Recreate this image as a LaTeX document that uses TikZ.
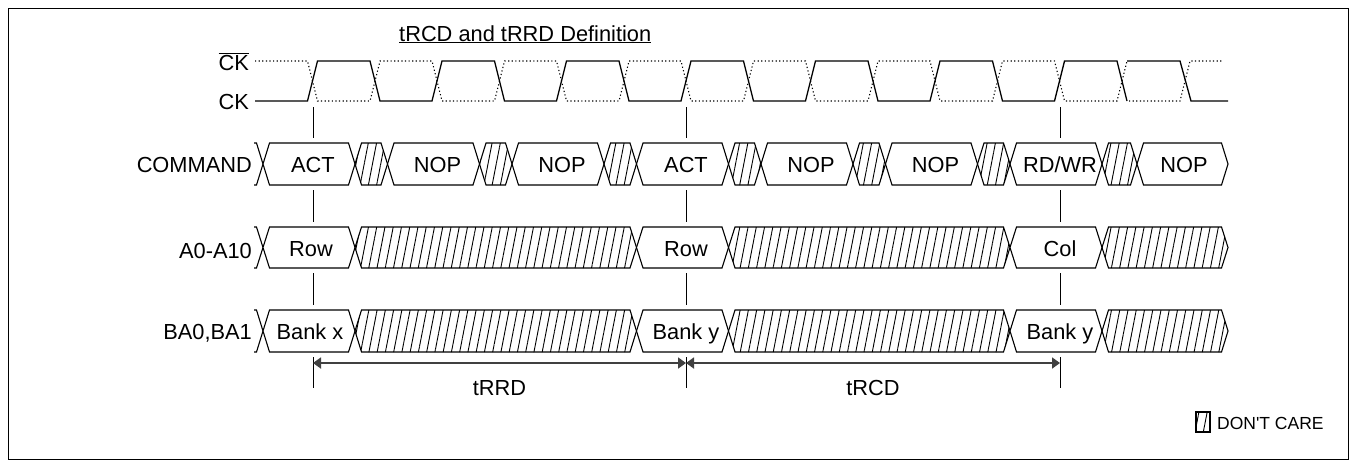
\documentclass[tikz,border=0pt]{standalone}
\usepackage{fontspec}
\setmainfont{Liberation Sans}
\usetikzlibrary{arrows.meta, positioning, calc, patterns.meta}

\tikzset{
  lbl/.style={font=\fontsize{21.8}{25}\selectfont, inner sep=0pt, anchor=base east},
  val/.style={font=\fontsize{21.8}{25}\selectfont, inner sep=0pt, anchor=base},
  bus/.style={line width=1.1pt, line join=miter, fill=white},
  dc/.style={line width=1.1pt, line join=miter,
    pattern={Lines[angle=79, distance=8.1pt, line width=0.9pt]}},
  ck/.style={line width=1.3pt},
  ckn/.style={line width=1.1pt, dash pattern=on 1.2pt off 2.4pt},
  ref/.style={line width=1pt},
  span/.style={{Triangle[length=8pt, width=11pt]}-{Triangle[length=8pt, width=11pt]},
    line width=1.8pt, black!75}
}

% one bus segment between two crossings: style, left x, right x, top y, bottom y
\newcommand{\seg}[5]{\draw[#1] (#2,{(#4+#5)/2}) -- (#2+6.5,#4) -- (#3-6.5,#4)
  -- (#3,{(#4+#5)/2}) -- (#3-6.5,#5) -- (#2+6.5,#5) -- cycle;}
% half crossing at the start of a bus
\newcommand{\lead}[2]{\draw[bus, fill=none] (254,#1) -- (256.5,#1) -- (263,{(#1+#2)/2})
  -- (256.5,#2) -- (254,#2);}

\begin{document}
\begin{tikzpicture}[x=1pt, y=-1pt]
  \useasboundingbox (0,0) rectangle (1356,467);
  \draw[line width=1pt] (8,8) rectangle (1348,459);

  \node[val, anchor=base west] (title) at (399,41) {\underline{tRCD and tRRD Definition}};

  % clock
  \node[lbl] (ckb) at (249,70) {$\overline{\hbox{CK}}$};
  \node[lbl] (ck) at (249,109) {CK};
  \draw[ck] (255,101) \foreach \k in {0,...,6} {
    -- ({307.5+124.5*\k},101) -- ({317.5+124.5*\k},61)
    -- ({370+124.5*\k},61) -- ({380+124.5*\k},101)};
  \draw[ck] (1127,61) -- (1180,61) -- (1191,101) -- (1228,101);
  \draw[ckn] (255,61) \foreach \k in {0,...,6} {
    -- ({307.5+124.5*\k},61) -- ({317.5+124.5*\k},101)
    -- ({370+124.5*\k},101) -- ({380+124.5*\k},61)};
  \draw[ckn] (1129,101) -- (1180,101) -- (1190,61) -- (1223,61);

  % reference lines
  \foreach \x in {313,686,1060} {
    \draw[ref] (\x,107) -- (\x,138);
    \draw[ref] (\x,190) -- (\x,222);
    \draw[ref] (\x,273) -- (\x,305);
    \draw[ref] (\x,357) -- (\x,388);
  }

  % COMMAND
  \node[lbl] (cmd) at (252,172) {COMMAND};
  \lead{143}{185}
  \foreach \k in {0,...,6} {
    \seg{bus}{263+124.5*\k}{355+124.5*\k}{143}{185}
  }
  \foreach \k in {0,...,5} {
    \seg{dc}{355+124.5*\k}{387.5+124.5*\k}{143}{185}
  }
  \seg{dc}{1102}{1137}{143}{185}
  \seg{bus}{1137}{1228}{143}{185}
  \node[val] (c0) at (313,172) {ACT};
  \node[val] (c1) at (437.5,172) {NOP};
  \node[val] (c2) at (562,172) {NOP};
  \node[val] (c3) at (686,172) {ACT};
  \node[val] (c4) at (811,172) {NOP};
  \node[val] (c5) at (935.5,172) {NOP};
  \node[val] (c6) at (1060,172) {RD/WR};
  \node[val] (c7) at (1184,172) {NOP};

  % A0-A10 and BA0,BA1
  \node[lbl] (adr) at (252,258) {A0-A10};
  \node[lbl] (ba) at (252,339) {BA0,BA1};
  \foreach \t/\b in {227/268, 310/352} {
    \lead{\t}{\b}
    \seg{bus}{263}{355}{\t}{\b}
    \seg{dc}{355}{636.5}{\t}{\b}
    \seg{bus}{636.5}{728.5}{\t}{\b}
    \seg{dc}{728.5}{1010}{\t}{\b}
    \seg{bus}{1010}{1102}{\t}{\b}
    \seg{dc}{1102}{1228}{\t}{\b}
  }
  \node[val] (a0) at (311,256) {Row};
  \node[val] (a1) at (686,256) {Row};
  \node[val] (a2) at (1060,256) {Col};
  \node[val] (b0) at (310,339) {Bank x};
  \node[val] (b1) at (686,339) {Bank y};
  \node[val] (b2) at (1060,339) {Bank y};

  % timing spans
  \coordinate (m0) at (313,363);
  \coordinate (m1) at (686,363);
  \coordinate (m2) at (1060,363);
  \draw[span] (m0) -- (m1);
  \draw[span] (m1) -- (m2);
  \node[val] (trrd) at (499.5,395) {tRRD};
  \node[val] (trcd) at (873,395) {tRCD};

  % legend
  \draw[dc] (1196,412) rectangle (1210,432);
  \node[lbl, anchor=base west, font=\fontsize{17.5}{21}\selectfont] (dcare) at (1217,429)
    {DON\textquotesingle T CARE};
\end{tikzpicture}
\end{document}
